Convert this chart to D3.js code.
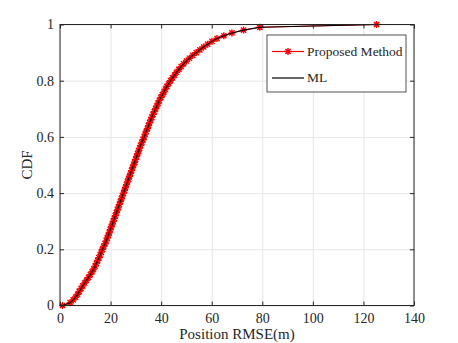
<!DOCTYPE html>
<html>
<head>
<meta charset="utf-8">
<script src="https://cdn.jsdelivr.net/npm/d3@7"></script>
<style>
  body { margin: 0; background: #fff; }
  #chart text { font-family: "Liberation Serif", "Times New Roman", serif; fill: #262626; }
</style>
</head>
<body>
<div id="chart"><svg></svg></div>
<script>
// sorted position RMSE samples (m)
const rmseValues = [
  1.0, 4.0, 5.2, 6.2, 7.0, 7.6, 8.3, 9.0, 9.8, 10.5,
  11.3, 12.0, 12.7, 13.3, 13.9, 14.4, 14.9, 15.4, 15.9, 16.3,
  16.8, 17.3, 17.8, 18.3, 18.7, 19.1, 19.5, 19.9, 20.3, 20.7,
  21.1, 21.5, 21.9, 22.3, 22.7, 23.1, 23.5, 23.9, 24.3, 24.7,
  25.1, 25.5, 25.9, 26.3, 26.7, 27.1, 27.5, 27.9, 28.3, 28.7,
  29.1, 29.5, 29.9, 30.3, 30.7, 31.1, 31.5, 31.9, 32.4, 32.8,
  33.3, 33.7, 34.1, 34.6, 35.0, 35.4, 35.9, 36.3, 36.8, 37.3,
  37.8, 38.3, 38.8, 39.3, 39.9, 40.5, 41.1, 41.7, 42.3, 43.0,
  43.7, 44.5, 45.3, 46.1, 47.0, 47.9, 48.9, 50.0, 51.2, 52.5,
  53.9, 55.3, 56.8, 58.4, 60.1, 62.1, 64.8, 68.0, 72.6, 79.0,
  125.2
];
// CDF level of each sample
const cdfValues = [
  0.00, 0.01, 0.02, 0.03, 0.04, 0.05, 0.06, 0.07, 0.08, 0.09,
  0.10, 0.11, 0.12, 0.13, 0.14, 0.15, 0.16, 0.17, 0.18, 0.19,
  0.20, 0.21, 0.22, 0.23, 0.24, 0.25, 0.26, 0.27, 0.28, 0.29,
  0.30, 0.31, 0.32, 0.33, 0.34, 0.35, 0.36, 0.37, 0.38, 0.39,
  0.40, 0.41, 0.42, 0.43, 0.44, 0.45, 0.46, 0.47, 0.48, 0.49,
  0.50, 0.51, 0.52, 0.53, 0.54, 0.55, 0.56, 0.57, 0.58, 0.59,
  0.60, 0.61, 0.62, 0.63, 0.64, 0.65, 0.66, 0.67, 0.68, 0.69,
  0.70, 0.71, 0.72, 0.73, 0.74, 0.75, 0.76, 0.77, 0.78, 0.79,
  0.80, 0.81, 0.82, 0.83, 0.84, 0.85, 0.86, 0.87, 0.88, 0.89,
  0.90, 0.91, 0.92, 0.93, 0.94, 0.95, 0.96, 0.97, 0.98, 0.99,
  1.00
];
// ML curve lies on top of the proposed one at this scale
const mlRmse = rmseValues;
const mlCdf = cdfValues;

const xTicks = [0, 20, 40, 60, 80, 100, 120, 140];
const yTicks = [0, 0.2, 0.4, 0.6, 0.8, 1];
const seriesNames = ["Proposed Method", "ML"];

const width = 458, height = 343;
const margin = { top: 24.5, right: 44, bottom: 37.5, left: 60 };

const svg = d3.select("#chart svg").attr("width", width).attr("height", height);

const x = d3.scaleLinear().domain([0, 140]).range([margin.left, width - margin.right]);
const y = d3.scaleLinear().domain([0, 1]).range([height - margin.bottom, margin.top]);
const plotW = x(140) - x(0), plotH = y(0) - y(1);

// grid
svg.append("g")
  .attr("transform", "translate(0," + y(0) + ")")
  .call(d3.axisBottom(x).tickValues(xTicks).tickSize(-plotH).tickFormat(""))
  .call(g => g.select(".domain").remove())
  .call(g => g.selectAll("line").attr("stroke", "#e6e6e6"));
svg.append("g")
  .attr("transform", "translate(" + x(0) + ",0)")
  .call(d3.axisLeft(y).tickValues(yTicks).tickSize(-plotW).tickFormat(""))
  .call(g => g.select(".domain").remove())
  .call(g => g.selectAll("line").attr("stroke", "#e6e6e6"));

// data
const pts = rmseValues.map((v, i) => [v, cdfValues[i]]);
const mlPts = mlRmse.map((v, i) => [v, mlCdf[i]]);
const line = d3.line().x(d => x(d[0])).y(d => y(d[1]));

svg.append("path").datum(pts)
  .attr("d", line).attr("fill", "none").attr("stroke", "#ff0000").attr("stroke-width", 1);

const star = "M-3.5,0H3.5M0,-3.5V3.5M-2.6,-2.6L2.6,2.6M-2.6,2.6L2.6,-2.6";
svg.append("g").selectAll("path")
  .data(pts)
  .join("path")
  .attr("transform", d => "translate(" + x(d[0]) + "," + y(d[1]) + ")")
  .attr("d", star)
  .attr("stroke", "#ff0000").attr("stroke-width", 1.4).attr("fill", "none");

svg.append("path").datum(mlPts)
  .attr("d", line).attr("fill", "none").attr("stroke", "#000").attr("stroke-width", 1.1);

// axes box and ticks
const axisColor = "#262626";
const styleAxis = g => {
  g.select(".domain").remove();
  g.selectAll("line").attr("stroke", axisColor);
  g.selectAll("text").attr("font-size", 14).attr("fill", axisColor)
    .style("font-family", '"Liberation Serif", serif');
};
svg.append("g")
  .attr("transform", "translate(0," + y(0) + ")")
  .call(d3.axisBottom(x).tickValues(xTicks).tickSizeInner(-4).tickSizeOuter(0).tickPadding(8))
  .call(styleAxis);
svg.append("g")
  .attr("transform", "translate(0," + y(1) + ")")
  .call(d3.axisTop(x).tickValues(xTicks).tickSizeInner(-4).tickSizeOuter(0).tickFormat(""))
  .call(styleAxis);
svg.append("g")
  .attr("transform", "translate(" + x(0) + ",0)")
  .call(d3.axisLeft(y).tickValues(yTicks).tickSizeInner(-4).tickSizeOuter(0).tickPadding(6)
    .tickFormat(d => d3.format("")(d)))
  .call(styleAxis);
svg.append("g")
  .attr("transform", "translate(" + x(140) + ",0)")
  .call(d3.axisRight(y).tickValues(yTicks).tickSizeInner(-4).tickSizeOuter(0).tickFormat(""))
  .call(styleAxis);

svg.append("rect")
  .attr("x", x(0)).attr("y", y(1)).attr("width", plotW).attr("height", plotH)
  .attr("fill", "none").attr("stroke", axisColor).attr("stroke-width", 1);

// labels
svg.append("text")
  .attr("x", (x(0) + x(140)) / 2).attr("y", 339)
  .attr("text-anchor", "middle").attr("font-size", 15)
  .text("Position RMSE(m)");
svg.append("text")
  .attr("transform", "translate(32," + (y(0) + y(1)) / 2 + ") rotate(-90)")
  .attr("text-anchor", "middle").attr("font-size", 15)
  .text("CDF");

// legend
const lg = svg.append("g").attr("transform", "translate(267,35)");
lg.append("rect").attr("width", 139).attr("height", 57)
  .attr("fill", "#fff").attr("stroke", axisColor).attr("stroke-width", 0.8);
const colors = ["#ff0000", "#000"];
seriesNames.forEach((name, i) => {
  const ly = 16.5 + i * 26.5;
  lg.append("line").attr("x1", 5).attr("x2", 37).attr("y1", ly).attr("y2", ly)
    .attr("stroke", colors[i]).attr("stroke-width", 1.2);
  if (i === 0) {
    lg.append("path").attr("transform", "translate(21," + ly + ")")
      .attr("d", star).attr("stroke", colors[i]).attr("stroke-width", 1.4).attr("fill", "none");
  }
  lg.append("text").attr("x", 40).attr("y", ly).attr("dy", "0.32em")
    .attr("font-size", 13.5).text(name);
});
</script>
</body>
</html>
